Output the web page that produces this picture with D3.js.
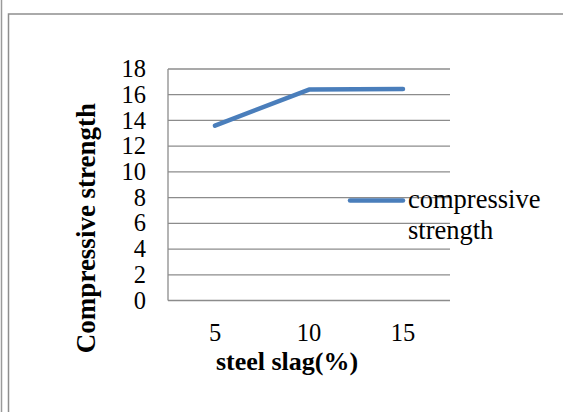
<!DOCTYPE html>
<html>
<head>
<meta charset="utf-8">
<script src="https://cdn.jsdelivr.net/npm/d3@7"></script>
<style>
  html, body { margin: 0; padding: 0; background: #fff; }
  svg { display: block; }
  text { font-family: "Liberation Serif", "Times New Roman", serif; fill: #000; }
</style>
</head>
<body>
<svg id="chart" width="563" height="412"></svg>
<script>
// Steel slag content (%) and measured compressive strength
const categories = ["5", "10", "15"];
const strength = [13.6, 16.4, 16.45];
const yTicks = [0, 2, 4, 6, 8, 10, 12, 14, 16, 18];
const seriesName = ["compressive", "strength"];

const svg = d3.select("#chart");
const W = 563, H = 412;
const plot = { left: 168, right: 450, top: 69, bottom: 300.5 };
const serif = "'Liberation Serif', 'Times New Roman', serif";

// Page frame: outer rule and the chart box
svg.append("line").attr("x1", 1.5).attr("x2", 1.5).attr("y1", 0).attr("y2", H)
  .attr("stroke", "#9a9a9a").attr("stroke-width", 1.5);
svg.append("rect").attr("x", 8.5).attr("y", 14).attr("width", W).attr("height", H)
  .attr("fill", "none").attr("stroke", "#8e8e8e").attr("stroke-width", 1.5);

const x = d3.scaleBand().domain(categories).range([plot.left, plot.right]);
const y = d3.scaleLinear().domain([0, 18]).range([plot.bottom, plot.top]);

// Horizontal gridlines
svg.append("g").selectAll("line").data(yTicks).join("line")
  .attr("x1", plot.left).attr("x2", plot.right)
  .attr("y1", d => y(d)).attr("y2", d => y(d))
  .attr("stroke", "#8c8c8c").attr("stroke-width", 1.3);

// Left axis rule
svg.append("line").attr("x1", plot.left).attr("x2", plot.left)
  .attr("y1", plot.top).attr("y2", plot.bottom)
  .attr("stroke", "#8c8c8c").attr("stroke-width", 1.3);

// Y tick labels
const yAxis = d3.axisLeft(y).tickValues(yTicks).tickSize(0).tickPadding(0);
const gy = svg.append("g").attr("transform", `translate(146,0)`).call(yAxis);
gy.select(".domain").remove();
gy.selectAll("text").attr("font-size", 24.5).attr("dy", "0.31em")
  .style("font-family", serif).attr("fill", "#000");

// X tick labels
const xAxis = d3.axisBottom(x).tickSize(0).tickPadding(0);
const gx = svg.append("g").attr("transform", `translate(0,341)`).call(xAxis);
gx.select(".domain").remove();
gx.selectAll("text").attr("font-size", 24.5).attr("dy", 0)
  .style("font-family", serif).attr("fill", "#000");

// Data line
const line = d3.line().x((d, i) => x(categories[i]) + x.bandwidth() / 2).y(d => y(d));
svg.append("path").datum(strength).attr("d", line)
  .attr("fill", "none").attr("stroke", "#4a7ebb").attr("stroke-width", 4.5)
  .attr("stroke-linecap", "round").attr("stroke-linejoin", "round");

// Legend
svg.append("line").attr("x1", 350).attr("x2", 403).attr("y1", 200.5).attr("y2", 200.5)
  .attr("stroke", "#4a7ebb").attr("stroke-width", 4.5).attr("stroke-linecap", "round");
const leg = svg.append("text").attr("x", 408).attr("y", 208).attr("font-size", 26.5);
leg.selectAll("tspan").data(seriesName).join("tspan")
  .attr("x", 408).attr("dy", (d, i) => i === 0 ? 0 : 31).text(d => d);

// Axis titles
svg.append("text").attr("x", 287).attr("y", 370).attr("text-anchor", "middle")
  .attr("font-size", 26).attr("font-weight", "bold").text("steel slag(%)");
svg.append("text").attr("transform", "translate(95,228) rotate(-90)")
  .attr("text-anchor", "middle").attr("font-size", 27).attr("font-weight", "bold")
  .text("Compressive strength");
</script>
</body>
</html>
